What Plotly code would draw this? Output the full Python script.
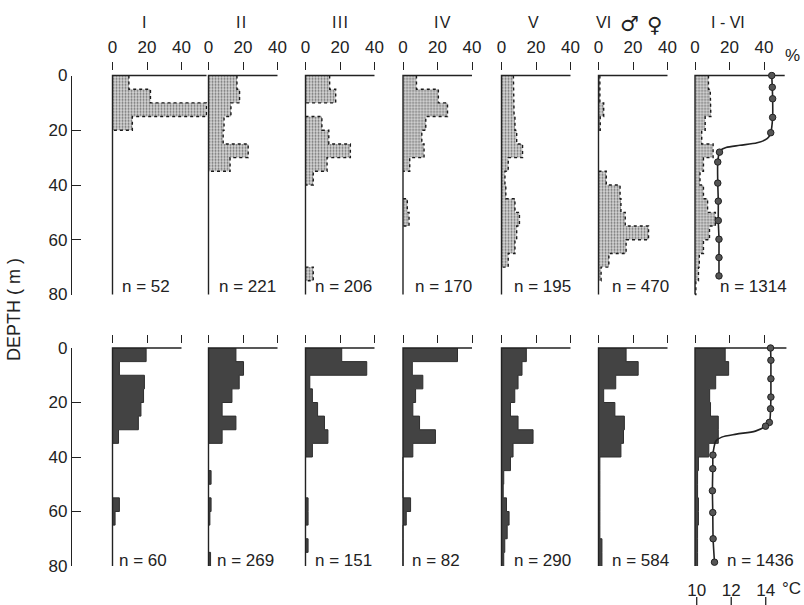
import plotly.graph_objects as go

# ---------------- data ----------------
depth_bins = [0, 5, 10, 15, 20, 25, 30, 35, 40, 45, 50, 55, 60, 65, 70, 75]
bin_size = 5
max_depth = 80

panel_titles = ["I", "I\u200aI", "I\u200aI\u200aI", "I\u200aV", "V", "VI", "I - VI"]
top_n = [52, 221, 206, 170, 195, 470, 1314]
bottom_n = [60, 269, 151, 82, 290, 584, 1436]

# top row (percent per 5 m depth bin)
top_I = [9.5, 22, 54.5, 11.5, 0, 0, 0, 0, 0, 0, 0, 0, 0, 0, 0, 0]
top_II = [16.5, 18, 13, 9, 8.5, 23, 12.5, 0, 0, 0, 0, 0, 0, 0, 0, 0]
top_III = [14, 17.5, 0, 9.5, 13.5, 26, 12.5, 4.5, 0, 0, 0, 0, 0, 0, 4.5, 0]
top_IV = [7.8, 20.5, 25.8, 13.2, 10.9, 12.2, 3.9, 0, 0, 2.5, 3.5, 0, 0, 0, 0, 0]
top_V = [6.9, 6.9, 7.3, 7.8, 8.8, 12.2, 3.9, 2.0, 2.5, 7.8, 10.4, 8.8, 7.8, 3.9, 0, 0]
top_VI = [0.8, 0.8, 3, 1, 0, 0, 0, 4.5, 12.5, 13, 15.5, 29, 16, 6, 1.5, 0]
top_all = [7.8, 8.8, 9.2, 5.9, 3.9, 10.5, 4.9, 2.9, 4.9, 7.3, 11.8, 8.4, 4.9, 2.5, 2, 0.5]

# bottom row
bot_I = [19.5, 4, 18.5, 18, 16.5, 15, 3.5, 0, 0, 0, 0, 4, 1.5, 0, 0, 0]
bot_II = [15.9, 20.3, 17.8, 13.6, 7.9, 15.9, 7.9, 0, 0, 1.5, 0, 1.5, 0.8, 0, 0, 1.2]
bot_III = [21, 35.5, 2.5, 4, 7, 11, 13, 4, 0, 0, 0, 1.5, 1.5, 0, 1.5, 0]
bot_IV = [31.6, 5.4, 11.5, 7.3, 5.7, 9.6, 18.8, 5.7, 0, 0, 0, 4.4, 1.9, 0, 0, 0]
bot_V = [14.4, 11.9, 9.6, 7.7, 5.2, 9.6, 18.3, 6.7, 5.2, 1.3, 1, 2.9, 4.4, 3.3, 1.9, 1.3]
bot_VI = [16, 23, 10, 3, 9.5, 15, 14.5, 13, 0.8, 0.8, 0.8, 0.8, 0.8, 0.8, 2, 2]
bot_all = [17.5, 19.5, 12, 8.5, 9, 13.5, 13.5, 8, 2, 1.5, 1.5, 2, 2, 1.5, 1.5, 1.5]

top_rows = [top_I, top_II, top_III, top_IV, top_V, top_VI, top_all]
bot_rows = [bot_I, bot_II, bot_III, bot_IV, bot_V, bot_VI, bot_all]

# temperature profiles (deg C) – measured points and curve points
top_temp_depth = [0, 4.3, 8.5, 15.3, 20.9, 28, 31.6, 39.3, 45.9, 53, 59.8, 66.5, 73.2]
top_temp = [14.35, 14.38, 14.40, 14.40, 14.29, 11.32, 11.22, 11.22, 11.25, 11.25, 11.29, 11.29, 11.29]
top_curve_depth = [23, 24.6, 25.5, 26.3, 27.2]
top_curve_temp = [14.1, 13.5, 12.5, 11.7, 11.4]

bot_temp_depth = [0, 4.5, 11.3, 18, 22.3, 27.3, 28.7, 39.3, 44.3, 52.4, 60.4, 70, 78.6]
bot_temp = [14.28, 14.30, 14.30, 14.30, 14.28, 14.21, 13.99, 10.94, 10.93, 10.91, 10.93, 10.95, 11.03]
bot_curve_depth = [30.5, 31.6, 32.7, 34.2, 36.5]
bot_curve_temp = [13.4, 12.3, 11.45, 11.1, 11.0]

pct_ticks = [0, 20, 40]
depth_ticks = [0, 20, 40, 60, 80]
temp_ticks = [10, 12, 14]

# ---------------- geometry / style ----------------
W, H = 804, 605
INK = "#222222"
FONT = "Liberation Sans"
panel_x0 = [112.5, 208.5, 305.5, 403, 501.5, 598.5, 695]
px_per_pct = 1.725
pct_max = 55
pct_pad = 2.0          # extra range left of 0 so the baseline is not clipped
depth_pad = 1.5        # extra range above 0 / below 80 m
top_y0, top_y80 = 75.5, 294.5
bot_y0, bot_y80 = 348, 566
top_line_end = [54.5, 40, 40, 40, 40, 40, 52]
bot_line_end = [40, 40, 40, 40, 40, 40, 53]
top_n_off = [7.5, 8, 7.5, 10, 10, 11.5, 23]
bot_n_off = [4.5, 6.5, 7.5, 7, 10.5, 11.5, 30]
title_x = [144.3, 240.5, 340, 442.5, 533, 603, 727.5]
temp_px_per_deg = 17.25
temp_min = 9.9


def px2x(px):
    return px / W


def py2y(py):
    return 1 - py / H


def axname(k):
    return "x" if k == 1 else f"x{k}"


def axkey(k):
    return "xaxis" if k == 1 else f"xaxis{k}"


def outline(vals):
    """Step outline of a histogram, leaving out the parts lying on the baseline."""
    xs, ys = [], []
    for i, v in enumerate(vals):
        top = depth_bins[i]
        bot = top + bin_size
        prev = vals[i - 1] if i > 0 else 0
        joined = i > 0 and (v > 0 or prev > 0)
        if joined:
            xs += [prev, v]
            ys += [top, top]
        if v > 0:
            if not joined:
                xs.append(v)
                ys.append(top)
            xs.append(v)
            ys.append(bot)
        else:
            xs.append(None)
            ys.append(None)
    if vals[-1] > 0:
        xs += [vals[-1], 0]
        ys += [max_depth, max_depth]
    return xs, ys


fig = go.Figure()
layout = dict(
    template="none",
    width=W, height=H, autosize=False,
    margin=dict(l=0, r=0, t=0, b=0, pad=0),
    paper_bgcolor="white", plot_bgcolor="rgba(0,0,0,0)",
    showlegend=False,
    font=dict(family=FONT, size=17, color=INK),
)

# panel y axes (hidden, padded) and left depth axes (visible)
for key, lkey, (y0, y80) in (("yaxis", "yaxis3", (top_y0, top_y80)),
                             ("yaxis2", "yaxis4", (bot_y0, bot_y80))):
    sc = (y80 - y0) / max_depth
    layout[key] = dict(
        domain=[py2y(y80 + depth_pad * sc), py2y(y0 - depth_pad * sc)],
        range=[max_depth + depth_pad, -depth_pad], visible=False, automargin=False,
        showgrid=False, zeroline=False, fixedrange=True)
    layout[lkey] = dict(
        domain=[py2y(y80), py2y(y0)], range=[max_depth, 0],
        anchor="free", position=px2x(71), automargin=False,
        showline=True, linecolor=INK, linewidth=1.3,
        ticks="inside", ticklen=9, tickwidth=1.3, tickcolor=INK,
        tickvals=depth_ticks, tickfont=dict(family=FONT, size=17, color=INK),
        showgrid=False, zeroline=False, fixedrange=True,
    )

shapes = []
annotations = []
frame_traces = []

for row, (rows, yname, line_end, n_list, n_off, n_py) in enumerate((
        (top_rows, "y", top_line_end, top_n, top_n_off, 286.5),
        (bot_rows, "y2", bot_line_end, bottom_n, bot_n_off, 560))):
    for i in range(7):
        k = row * 7 + i + 1
        x0 = panel_x0[i]
        layout[axkey(k)] = dict(
            domain=[px2x(x0 - pct_pad * px_per_pct), px2x(x0 + pct_max * px_per_pct)],
            range=[-pct_pad, pct_max], automargin=False,
            anchor=yname, side="top", showline=False,
            ticks="outside", ticklen=8, tickwidth=1.3, tickcolor=INK,
            tickvals=pct_ticks, showticklabels=(row == 0), ticklabelstandoff=3,
            tickfont=dict(family=FONT, size=17, color=INK),
            showgrid=False, zeroline=False, fixedrange=True,
        )
        vals = rows[i]
        xs = vals + [vals[-1]]
        ys = depth_bins + [max_depth]
        if row == 0:
            fig.add_trace(go.Scatter(
                x=xs, y=ys, xaxis=axname(k), yaxis=yname, mode="none",
                line=dict(shape="vh"),
                fill="tozerox", fillcolor="#cfcfcf",
                fillpattern=dict(shape=".", bgcolor="#d8d8d8", fgcolor="#6a6a6a",
                                 size=3, solidity=0.35),
                hoverinfo="skip"))
            ox, oy = outline(vals)
            fig.add_trace(go.Scatter(
                x=ox, y=oy, xaxis=axname(k), yaxis=yname, mode="lines",
                line=dict(color="#1a1a1a", width=1.4, dash="dot"),
                connectgaps=False, hoverinfo="skip"))
        else:
            fig.add_trace(go.Scatter(
                x=xs, y=ys, xaxis=axname(k), yaxis=yname, mode="lines",
                line=dict(shape="vh", color="#2e2e2e", width=1),
                fill="tozerox", fillcolor="#434343", hoverinfo="skip"))
        # panel frame: baseline (x = 0) and top line (depth 0)
        frame_traces.append(go.Scatter(
            x=[line_end[i], 0, 0], y=[0, 0, max_depth], xaxis=axname(k), yaxis=yname,
            mode="lines", line=dict(color=INK, width=1.4), hoverinfo="skip"))
        annotations.append(dict(
            text=f"n = {n_list[i]}", xref="paper", yref="paper",
            x=px2x(x0 + n_off[i]), y=py2y(n_py), xanchor="left", yanchor="middle",
            showarrow=False, font=dict(family=FONT, size=17, color=INK)))

for tr in frame_traces:
    fig.add_trace(tr)

# dummy (empty) traces so the left depth axes are drawn
fig.add_trace(go.Scatter(x=[None], y=[None], xaxis="x", yaxis="y3", mode="lines",
                         hoverinfo="skip"))
fig.add_trace(go.Scatter(x=[None], y=[None], xaxis="x8", yaxis="y4", mode="lines",
                         hoverinfo="skip"))

# temperature axes
t_lo = temp_min - pct_pad * px_per_pct / temp_px_per_deg
t_hi = temp_min + pct_max * px_per_pct / temp_px_per_deg
layout["xaxis15"] = dict(overlaying="x7", anchor="y", range=[t_lo, t_hi],
                         visible=False, fixedrange=True, automargin=False)
layout["xaxis16"] = dict(overlaying="x14", anchor="free", position=py2y(599),
                         side="top", range=[t_lo, t_hi], tickvals=temp_ticks,
                         ticks="", showline=False, showgrid=False, zeroline=False,
                         automargin=False,
                         tickfont=dict(family=FONT, size=17, color=INK), fixedrange=True)
for t in temp_ticks:
    shapes.append(dict(type="line", xref="x16", yref="paper", x0=t, x1=t,
                       y0=py2y(605), y1=py2y(597), line=dict(color=INK, width=1.3)))

for (md, mt, cd, ct, xa, ya) in (
        (top_temp_depth, top_temp, top_curve_depth, top_curve_temp, "x15", "y"),
        (bot_temp_depth, bot_temp, bot_curve_depth, bot_curve_temp, "x16", "y2")):
    merged = sorted(zip(md + cd, mt + ct))
    fig.add_trace(go.Scatter(
        x=[t for _, t in merged], y=[d for d, _ in merged], xaxis=xa, yaxis=ya,
        mode="lines", line=dict(color="#222222", width=1.6, shape="spline", smoothing=0.8),
        hoverinfo="skip"))
    fig.add_trace(go.Scatter(
        x=mt, y=md, xaxis=xa, yaxis=ya, mode="markers",
        marker=dict(size=6.5, color="#555555", line=dict(color="#222222", width=1)),
        hoverinfo="skip"))

# titles
for i, t in enumerate(panel_titles):
    annotations.append(dict(text=t, xref="paper", yref="paper", x=px2x(title_x[i]),
                            y=py2y(23), xanchor="center", yanchor="middle", showarrow=False,
                            font=dict(family=FONT, size=16, color=INK)))
annotations.append(dict(text="\u2642", xref="paper", yref="paper", x=px2x(629), y=py2y(24),
                        xanchor="center", yanchor="middle", showarrow=False,
                        font=dict(family="DejaVu Sans", size=21, color=INK)))
annotations.append(dict(text="\u2640", xref="paper", yref="paper", x=px2x(654), y=py2y(25),
                        xanchor="center", yanchor="middle", showarrow=False,
                        font=dict(family="DejaVu Sans", size=21, color=INK)))
annotations.append(dict(text="%", xref="paper", yref="paper", x=px2x(792), y=py2y(55),
                        xanchor="center", yanchor="middle", showarrow=False,
                        font=dict(family=FONT, size=17, color=INK)))
annotations.append(dict(text="\u00b0C", xref="paper", yref="paper", x=px2x(791), y=py2y(588),
                        xanchor="center", yanchor="middle", showarrow=False,
                        font=dict(family=FONT, size=17, color=INK)))
annotations.append(dict(text="DEPTH ( m )", xref="paper", yref="paper", x=px2x(14),
                        y=py2y(310), xanchor="center", yanchor="middle", textangle=-90,
                        showarrow=False, font=dict(family=FONT, size=18, color=INK)))

layout["shapes"] = shapes
layout["annotations"] = annotations
fig.update_layout(**layout)
fig.write_html("out.html")
